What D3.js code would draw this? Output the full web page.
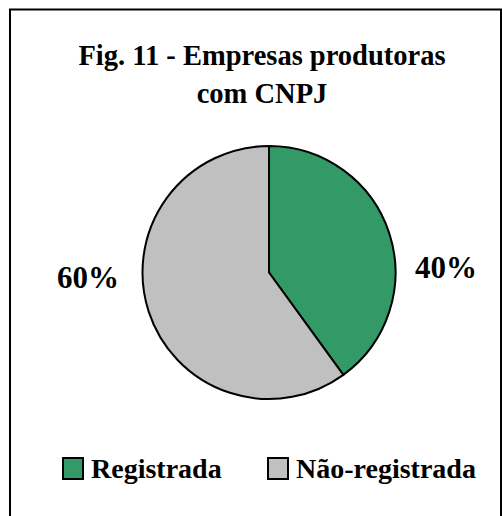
<!DOCTYPE html>
<html>
<head>
<meta charset="utf-8">
<script src="https://cdn.jsdelivr.net/npm/d3@7"></script>
<style>
  body { margin: 0; background: #fff; }
  svg { display: block; font-family: "Liberation Serif", "Times New Roman", serif; font-weight: bold; }
</style>
</head>
<body>
<div id="chart"></div>
<script>
// Data
const categories = ['Registrada', 'Não-registrada'];
const values = [40, 60];
const colors = ['#339966', '#c0c0c0'];
const titleLines = ['Fig. 11 - Empresas produtoras', 'com CNPJ'];

const width = 502;
const height = 516;

const svg = d3.select('#chart')
    .append('svg')
    .attr('width', width)
    .attr('height', height);

// Frame (bottom edge falls outside the picture)
svg.append('rect')
    .attr('x', 10)
    .attr('y', 9.5)
    .attr('width', 491)
    .attr('height', 520)
    .attr('fill', 'none')
    .attr('stroke', '#000')
    .attr('stroke-width', 2);

// Title
svg.append('g')
    .selectAll('text')
    .data(titleLines)
    .enter()
    .append('text')
    .attr('x', 262)
    .attr('y', (d, i) => 65 + i * 38)
    .attr('text-anchor', 'middle')
    .attr('font-size', '28.5px')
    .attr('fill', '#000')
    .text(d => d);

// Pie
const cx = 269, cy = 272.5, radius = 126.5;
const pie = d3.pie().sort(null).value(d => d.value);
const arc = d3.arc().innerRadius(0).outerRadius(radius);
const slices = pie(categories.map((c, i) => ({ name: c, value: values[i], color: colors[i] })));

const g = svg.append('g').attr('transform', `translate(${cx},${cy})`);
g.selectAll('path')
    .data(slices)
    .enter()
    .append('path')
    .attr('d', arc)
    .attr('fill', d => d.data.color)
    .attr('stroke', '#000')
    .attr('stroke-width', 2)
    .attr('stroke-linejoin', 'round');

// Percent labels placed outside the pie, on the slice's horizontal side
const total = d3.sum(values);
const labelPos = [[446, 277.5], [88, 287.5]];
svg.append('g')
    .selectAll('text')
    .data(slices)
    .enter()
    .append('text')
    .attr('x', (d, i) => labelPos[i][0])
    .attr('y', (d, i) => labelPos[i][1])
    .attr('text-anchor', 'middle')
    .attr('font-size', '31px')
    .attr('fill', '#000')
    .text(d => d3.format('.0%')(d.data.value / total));

// Legend
const legendX = [63, 268];
const legend = svg.append('g')
    .attr('class', 'legend')
    .attr('transform', 'translate(0, 458)');

categories.forEach((name, i) => {
    const row = legend.append('g')
        .attr('transform', `translate(${legendX[i]}, 0)`);

    row.append('rect')
        .attr('x', 0)
        .attr('y', 0)
        .attr('width', 20)
        .attr('height', 21)
        .attr('fill', colors[i])
        .attr('stroke', '#000')
        .attr('stroke-width', 2);

    row.append('text')
        .attr('x', 28)
        .attr('y', 19.5)
        .attr('font-size', '28px')
        .attr('fill', '#000')
        .text(name);
});
</script>
</body>
</html>
